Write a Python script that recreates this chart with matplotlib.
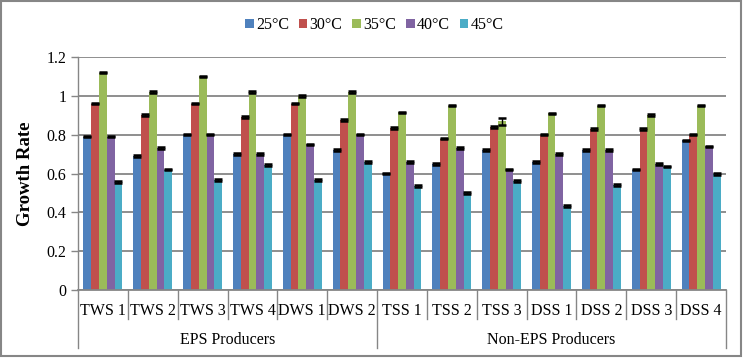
import numpy as np
import matplotlib
matplotlib.use('Agg')
import matplotlib.pyplot as plt
from matplotlib.patches import Rectangle
from matplotlib.ticker import FormatStrFormatter

plt.rcParams['font.family'] = ['Liberation Serif', 'DejaVu Serif']

strains = ['TWS 1', 'TWS 2', 'TWS 3', 'TWS 4', 'DWS 1', 'DWS 2',
           'TSS 1', 'TSS 2', 'TSS 3', 'DSS 1', 'DSS 2', 'DSS 3', 'DSS 4']
groups = ['EPS Producers', 'Non-EPS Producers']
group_sizes = [6, 7]
temps = ['25°C', '30°C', '35°C', '40°C', '45°C']

g25 = [0.79, 0.69, 0.80, 0.70, 0.80, 0.72, 0.60, 0.65, 0.72, 0.66, 0.72, 0.62, 0.77]
g30 = [0.96, 0.90, 0.96, 0.89, 0.96, 0.875, 0.835, 0.78, 0.84, 0.80, 0.83, 0.83, 0.80]
g35 = [1.12, 1.02, 1.10, 1.02, 1.00, 1.02, 0.915, 0.95, 0.868, 0.91, 0.95, 0.90, 0.95]
g40 = [0.79, 0.73, 0.80, 0.70, 0.75, 0.80, 0.66, 0.73, 0.62, 0.70, 0.72, 0.65, 0.74]
g45 = [0.557, 0.62, 0.567, 0.645, 0.567, 0.66, 0.535, 0.50, 0.56, 0.433, 0.54, 0.636, 0.597]
values = [g25, g30, g35, g40, g45]

e25 = [0.004] * 13
e30 = [0.004] * 13
e35 = [0.004] * 13
e35[8] = 0.02
e40 = [0.004] * 13
e45 = [0.004] * 13
errors = [e25, e30, e35, e40, e45]

colors = ['#4F81BD', '#C0504D', '#9BBB59', '#8064A2', '#4BACC6']
grid_col = '#868686'

fig = plt.figure(figsize=(7.44, 3.58), dpi=100)
ax = fig.add_axes([78 / 744, 68 / 358, 648 / 744, 233 / 358])

x = np.arange(len(strains))
w = 0.78 / 5
for i in range(5):
    pos = x - 0.39 + w * (i + 0.5)
    ax.bar(pos, values[i], width=w, color=colors[i], label=temps[i], zorder=2)
    ax.errorbar(pos, values[i], yerr=errors[i], fmt='none', ecolor='black',
                elinewidth=1, capsize=2.6, capthick=1.8, zorder=3)

ax.set_xlim(-0.5, len(strains) - 0.5)
ax.set_ylim(0, 1.2)
ax.set_yticks(np.arange(0, 1.21, 0.2))
ax.yaxis.set_major_formatter(FormatStrFormatter('%g'))
ax.yaxis.grid(True, color=grid_col, linewidth=1.3, zorder=0)
ax.set_axisbelow(True)
ax.set_xticks([])
for s in ['top', 'right']:
    ax.spines[s].set_visible(False)
ax.spines['left'].set_color(grid_col)
ax.spines['bottom'].set_color(grid_col)
ax.spines['left'].set_linewidth(1.0)
ax.spines['bottom'].set_linewidth(1.3)
ax.tick_params(axis='y', colors=grid_col, labelcolor='black', labelsize=11.5,
               length=5, width=1)
ax.set_ylabel('Growth Rate', fontsize=13.5, fontweight='bold', labelpad=9)

# two-level category axis
tr = ax.get_xaxis_transform()
for i, s in enumerate(strains):
    ax.text(i, -0.09, s, transform=tr, ha='center', va='center', fontsize=11.5,
            clip_on=False)
bounds = np.cumsum([0] + group_sizes) - 0.5
for k in range(len(strains) + 1):
    xb = k - 0.5
    low = -0.249 if xb in bounds else -0.125
    ax.plot([xb, xb], [0, low], transform=tr, color=grid_col, lw=1,
            clip_on=False)
for g, a, b in zip(groups, bounds[:-1], bounds[1:]):
    ax.text((a + b) / 2, -0.215, g, transform=tr, ha='center', va='center',
            fontsize=11.5, clip_on=False)

handles, labels = ax.get_legend_handles_labels()
fig.legend(handles, labels, loc='center', bbox_to_anchor=(0.503, 0.93), ncol=5,
           frameon=False, fontsize=11.5, handlelength=0.55, handleheight=0.55,
           handletextpad=0.15, columnspacing=0.6)

fig.add_artist(Rectangle((0.002, 0.006), 0.994, 0.991, transform=fig.transFigure,
                         fill=False, edgecolor=grid_col, linewidth=1.5))

fig.savefig('out.png', dpi=100)
